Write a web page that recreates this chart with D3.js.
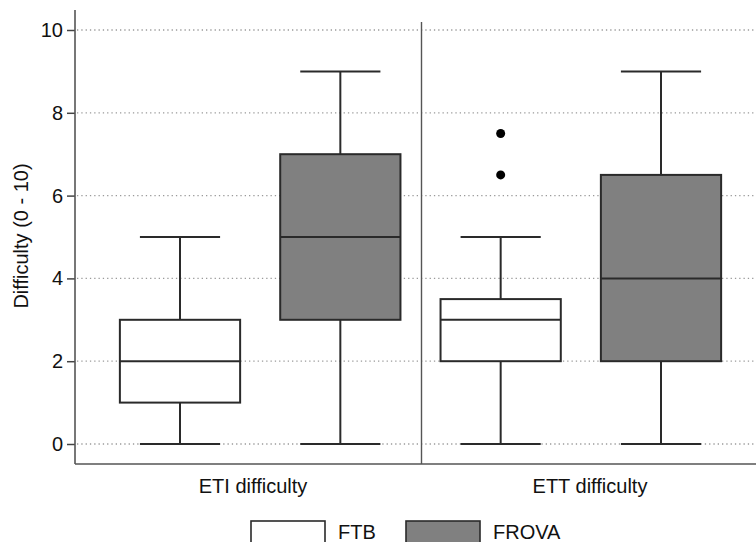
<!DOCTYPE html>
<html>
<head>
<meta charset="utf-8">
<script src="https://cdn.jsdelivr.net/npm/d3@7"></script>
<style>
  body { margin: 0; background: #fff; }
  svg { display: block; font-family: "Liberation Sans", Arial, sans-serif; }
</style>
</head>
<body>
<svg id="chart" width="756" height="542"></svg>
<script>
// data
const panels = ['ETI difficulty', 'ETT difficulty'];
const groups = ['FTB', 'FROVA'];
const boxPanel = ['ETI difficulty', 'ETI difficulty', 'ETT difficulty', 'ETT difficulty'];
const boxGroup = ['FTB', 'FROVA', 'FTB', 'FROVA'];
const whiskerLow = [0, 0, 0, 0];
const q1 = [1, 3, 2, 2];
const median = [2, 5, 3, 4];
const q3 = [3, 7, 3.5, 6.5];
const whiskerHigh = [5, 9, 5, 9];
const outlierPanel = ['ETT difficulty', 'ETT difficulty'];
const outlierGroup = ['FTB', 'FTB'];
const outlierValue = [6.5, 7.5];
const yTicks = [0, 2, 4, 6, 8, 10];
const groupFill = { FTB: '#ffffff', FROVA: '#808080' };

const svg = d3.select('#chart');
const left = 75, bottom = 464;

const y = d3.scaleLinear().domain([0, 10]).range([444, 30]);

const keys = boxPanel.map((p, i) => p + '|' + boxGroup[i]);
const x = d3.scalePoint().domain(keys).range([180, 661]);
const boxW = x.step() * 0.75;
const capW = x.step() * 0.5;

const panelX = d3.scaleBand().domain(panels).range([left, 768]).padding(0);

// grid
svg.append('g')
  .selectAll('line')
  .data(yTicks)
  .join('line')
  .attr('x1', left + 2).attr('x2', 756)
  .attr('y1', d => y(d)).attr('y2', d => y(d))
  .attr('stroke', '#9a9a9a')
  .attr('stroke-width', 1.3)
  .attr('stroke-dasharray', '1.3,3');

// y axis
const yAxis = svg.append('g')
  .attr('transform', `translate(${left},0)`)
  .call(d3.axisLeft(y).tickValues(yTicks).tickSize(8).tickPadding(4));
yAxis.select('.domain').remove();
yAxis.selectAll('.tick line').attr('stroke', '#444').attr('stroke-width', 1.5);
yAxis.selectAll('.tick text').attr('fill', '#111').style('font-size', '20px')
  .style('font-family', '"Liberation Sans", Arial, sans-serif');

svg.append('line').attr('x1', left).attr('x2', left).attr('y1', 10).attr('y2', bottom)
  .attr('stroke', '#555').attr('stroke-width', 1.6);
svg.append('line').attr('x1', left).attr('x2', 756).attr('y1', bottom).attr('y2', bottom)
  .attr('stroke', '#555').attr('stroke-width', 1.6);
svg.append('line')
  .attr('x1', panelX(panels[1])).attr('x2', panelX(panels[1]))
  .attr('y1', 22).attr('y2', bottom)
  .attr('stroke', '#555').attr('stroke-width', 1.4);

// boxes
const boxes = svg.append('g')
  .selectAll('g')
  .data(keys)
  .join('g');

boxes.append('line')
  .attr('x1', d => x(d)).attr('x2', d => x(d))
  .attr('y1', (d, i) => y(whiskerLow[i])).attr('y2', (d, i) => y(q1[i]));
boxes.append('line')
  .attr('x1', d => x(d)).attr('x2', d => x(d))
  .attr('y1', (d, i) => y(q3[i])).attr('y2', (d, i) => y(whiskerHigh[i]));
boxes.append('line')
  .attr('x1', d => x(d) - capW / 2).attr('x2', d => x(d) + capW / 2)
  .attr('y1', (d, i) => y(whiskerLow[i])).attr('y2', (d, i) => y(whiskerLow[i]));
boxes.append('line')
  .attr('x1', d => x(d) - capW / 2).attr('x2', d => x(d) + capW / 2)
  .attr('y1', (d, i) => y(whiskerHigh[i])).attr('y2', (d, i) => y(whiskerHigh[i]));
boxes.append('rect')
  .attr('x', d => x(d) - boxW / 2)
  .attr('width', boxW)
  .attr('y', (d, i) => y(q3[i]))
  .attr('height', (d, i) => y(q1[i]) - y(q3[i]))
  .attr('fill', (d, i) => groupFill[boxGroup[i]]);
boxes.append('line')
  .attr('x1', d => x(d) - boxW / 2).attr('x2', d => x(d) + boxW / 2)
  .attr('y1', (d, i) => y(median[i])).attr('y2', (d, i) => y(median[i]));
boxes.selectAll('line, rect').attr('stroke', '#2a2a2a').attr('stroke-width', 2);

// outliers
svg.append('g')
  .selectAll('circle')
  .data(outlierValue)
  .join('circle')
  .attr('cx', (d, i) => x(outlierPanel[i] + '|' + outlierGroup[i]))
  .attr('cy', d => y(d))
  .attr('r', 4.5)
  .attr('fill', '#000');

// panel labels
svg.append('g')
  .selectAll('text')
  .data(panels)
  .join('text')
  .attr('x', (d, i) => i === 0 ? 253 : 590)
  .attr('y', 493)
  .attr('text-anchor', 'middle')
  .style('font-size', '20px')
  .attr('fill', '#111')
  .text(d => d);

// y title
svg.append('text')
  .attr('transform', 'translate(27.5,236) rotate(-90)')
  .attr('text-anchor', 'middle')
  .style('font-size', '20px')
  .attr('fill', '#111')
  .text('Difficulty (0 - 10)');

// legend
const legendX = d3.scalePoint().domain(groups).range([251, 406]);
const legend = svg.append('g')
  .selectAll('g')
  .data(groups)
  .join('g')
  .attr('transform', d => `translate(${legendX(d)},521)`);
legend.append('rect')
  .attr('width', 74).attr('height', 24)
  .attr('fill', d => groupFill[d])
  .attr('stroke', '#2a2a2a').attr('stroke-width', 1.6);
legend.append('text')
  .attr('x', 87).attr('y', 18)
  .style('font-size', '20px')
  .attr('fill', '#111')
  .text(d => d);
</script>
</body>
</html>
